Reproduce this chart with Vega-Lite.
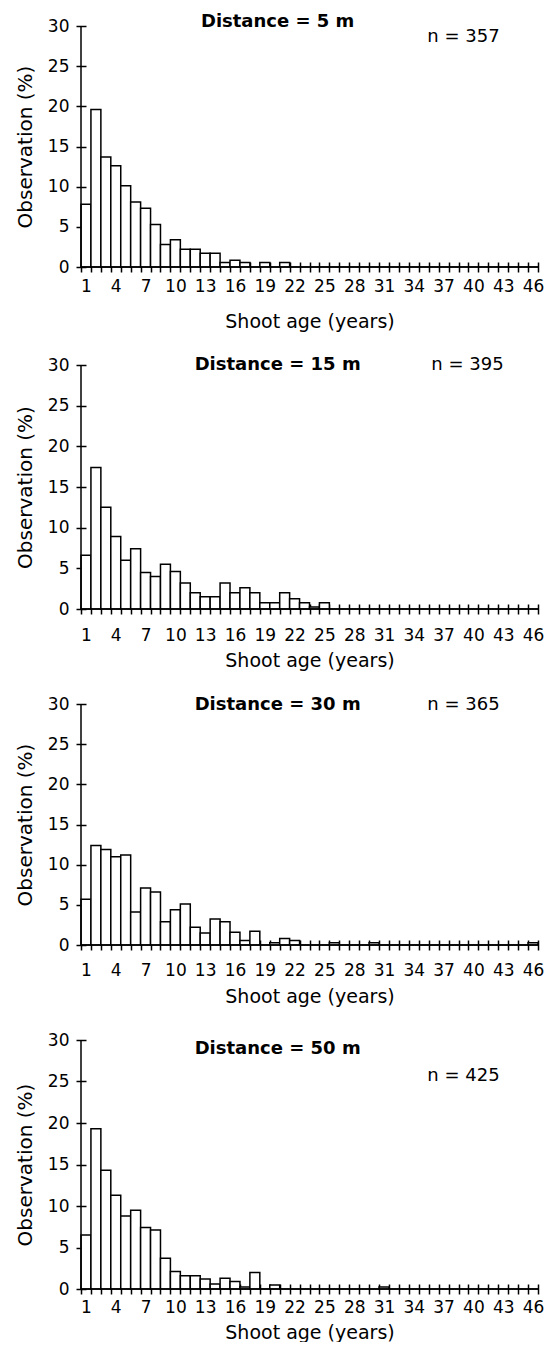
{
  "$schema": "https://vega.github.io/schema/vega-lite/v6.json",
  "background": "white",
  "padding": {"left": 15, "top": 12, "right": 0, "bottom": 0},
  "config": {
    "font": "DejaVu Sans",
    "view": {"stroke": null},
    "concat": {"spacing": 25},
    "axis": {"domain": false, "grid": false, "tickColor": "black", "tickWidth": 1.5, "tickSize": 10, "offset": -5, "labelColor": "black", "titleColor": "black", "labelFontSize": 17, "titleFontWeight": "normal", "labelFont": "DejaVu Sans", "titleFont": "DejaVu Sans"},
    "text": {"color": "black", "font": "DejaVu Sans"}
  },
  "datasets": {
    "labels": [
      {"dist": 5, "title": "Distance = 5 m", "n": "n = 357"},
      {"dist": 15, "title": "Distance = 15 m", "n": "n = 395"},
      {"dist": 30, "title": "Distance = 30 m", "n": "n = 365"},
      {"dist": 50, "title": "Distance = 50 m", "n": "n = 425"}
    ],
    "bars": [
      {"dist":5,"age":1,"pct":7.8},{"dist":5,"age":2,"pct":19.6},{"dist":5,"age":3,"pct":13.7},{"dist":5,"age":4,"pct":12.6},{"dist":5,"age":5,"pct":10.1},{"dist":5,"age":6,"pct":8.1},{"dist":5,"age":7,"pct":7.3},{"dist":5,"age":8,"pct":5.3},{"dist":5,"age":9,"pct":2.8},{"dist":5,"age":10,"pct":3.4},{"dist":5,"age":11,"pct":2.2},{"dist":5,"age":12,"pct":2.2},{"dist":5,"age":13,"pct":1.7},{"dist":5,"age":14,"pct":1.7},{"dist":5,"age":15,"pct":0.56},{"dist":5,"age":16,"pct":0.84},{"dist":5,"age":17,"pct":0.56},{"dist":5,"age":18,"pct":0},{"dist":5,"age":19,"pct":0.56},{"dist":5,"age":20,"pct":0},{"dist":5,"age":21,"pct":0.56},{"dist":5,"age":22,"pct":0},{"dist":5,"age":23,"pct":0},{"dist":5,"age":24,"pct":0},{"dist":5,"age":25,"pct":0},{"dist":5,"age":26,"pct":0},{"dist":5,"age":27,"pct":0},{"dist":5,"age":28,"pct":0},{"dist":5,"age":29,"pct":0},{"dist":5,"age":30,"pct":0},{"dist":5,"age":31,"pct":0},{"dist":5,"age":32,"pct":0},{"dist":5,"age":33,"pct":0},{"dist":5,"age":34,"pct":0},{"dist":5,"age":35,"pct":0},{"dist":5,"age":36,"pct":0},{"dist":5,"age":37,"pct":0},{"dist":5,"age":38,"pct":0},{"dist":5,"age":39,"pct":0},{"dist":5,"age":40,"pct":0},{"dist":5,"age":41,"pct":0},{"dist":5,"age":42,"pct":0},{"dist":5,"age":43,"pct":0},{"dist":5,"age":44,"pct":0},{"dist":5,"age":45,"pct":0},{"dist":5,"age":46,"pct":0},
      {"dist":15,"age":1,"pct":6.6},{"dist":15,"age":2,"pct":17.4},{"dist":15,"age":3,"pct":12.5},{"dist":15,"age":4,"pct":8.9},{"dist":15,"age":5,"pct":6.0},{"dist":15,"age":6,"pct":7.4},{"dist":15,"age":7,"pct":4.5},{"dist":15,"age":8,"pct":4.0},{"dist":15,"age":9,"pct":5.5},{"dist":15,"age":10,"pct":4.6},{"dist":15,"age":11,"pct":3.2},{"dist":15,"age":12,"pct":2.0},{"dist":15,"age":13,"pct":1.5},{"dist":15,"age":14,"pct":1.5},{"dist":15,"age":15,"pct":3.2},{"dist":15,"age":16,"pct":2.0},{"dist":15,"age":17,"pct":2.6},{"dist":15,"age":18,"pct":2.0},{"dist":15,"age":19,"pct":0.76},{"dist":15,"age":20,"pct":0.76},{"dist":15,"age":21,"pct":2.0},{"dist":15,"age":22,"pct":1.27},{"dist":15,"age":23,"pct":0.76},{"dist":15,"age":24,"pct":0.25},{"dist":15,"age":25,"pct":0.76},{"dist":15,"age":26,"pct":0},{"dist":15,"age":27,"pct":0},{"dist":15,"age":28,"pct":0},{"dist":15,"age":29,"pct":0},{"dist":15,"age":30,"pct":0},{"dist":15,"age":31,"pct":0},{"dist":15,"age":32,"pct":0},{"dist":15,"age":33,"pct":0},{"dist":15,"age":34,"pct":0},{"dist":15,"age":35,"pct":0},{"dist":15,"age":36,"pct":0},{"dist":15,"age":37,"pct":0},{"dist":15,"age":38,"pct":0},{"dist":15,"age":39,"pct":0},{"dist":15,"age":40,"pct":0},{"dist":15,"age":41,"pct":0},{"dist":15,"age":42,"pct":0},{"dist":15,"age":43,"pct":0},{"dist":15,"age":44,"pct":0},{"dist":15,"age":45,"pct":0},{"dist":15,"age":46,"pct":0},
      {"dist":30,"age":1,"pct":5.7},{"dist":30,"age":2,"pct":12.4},{"dist":30,"age":3,"pct":11.9},{"dist":30,"age":4,"pct":11.0},{"dist":30,"age":5,"pct":11.2},{"dist":30,"age":6,"pct":4.1},{"dist":30,"age":7,"pct":7.1},{"dist":30,"age":8,"pct":6.6},{"dist":30,"age":9,"pct":2.9},{"dist":30,"age":10,"pct":4.4},{"dist":30,"age":11,"pct":5.1},{"dist":30,"age":12,"pct":2.2},{"dist":30,"age":13,"pct":1.5},{"dist":30,"age":14,"pct":3.25},{"dist":30,"age":15,"pct":2.9},{"dist":30,"age":16,"pct":1.6},{"dist":30,"age":17,"pct":0.55},{"dist":30,"age":18,"pct":1.7},{"dist":30,"age":19,"pct":0},{"dist":30,"age":20,"pct":0.27},{"dist":30,"age":21,"pct":0.82},{"dist":30,"age":22,"pct":0.55},{"dist":30,"age":23,"pct":0},{"dist":30,"age":24,"pct":0},{"dist":30,"age":25,"pct":0},{"dist":30,"age":26,"pct":0.27},{"dist":30,"age":27,"pct":0},{"dist":30,"age":28,"pct":0},{"dist":30,"age":29,"pct":0},{"dist":30,"age":30,"pct":0.27},{"dist":30,"age":31,"pct":0},{"dist":30,"age":32,"pct":0},{"dist":30,"age":33,"pct":0},{"dist":30,"age":34,"pct":0},{"dist":30,"age":35,"pct":0},{"dist":30,"age":36,"pct":0},{"dist":30,"age":37,"pct":0},{"dist":30,"age":38,"pct":0},{"dist":30,"age":39,"pct":0},{"dist":30,"age":40,"pct":0},{"dist":30,"age":41,"pct":0},{"dist":30,"age":42,"pct":0},{"dist":30,"age":43,"pct":0},{"dist":30,"age":44,"pct":0},{"dist":30,"age":45,"pct":0},{"dist":30,"age":46,"pct":0.27},
      {"dist":50,"age":1,"pct":6.5},{"dist":50,"age":2,"pct":19.3},{"dist":50,"age":3,"pct":14.3},{"dist":50,"age":4,"pct":11.3},{"dist":50,"age":5,"pct":8.8},{"dist":50,"age":6,"pct":9.5},{"dist":50,"age":7,"pct":7.4},{"dist":50,"age":8,"pct":7.1},{"dist":50,"age":9,"pct":3.7},{"dist":50,"age":10,"pct":2.1},{"dist":50,"age":11,"pct":1.6},{"dist":50,"age":12,"pct":1.6},{"dist":50,"age":13,"pct":1.2},{"dist":50,"age":14,"pct":0.6},{"dist":50,"age":15,"pct":1.3},{"dist":50,"age":16,"pct":0.9},{"dist":50,"age":17,"pct":0.24},{"dist":50,"age":18,"pct":2.0},{"dist":50,"age":19,"pct":0},{"dist":50,"age":20,"pct":0.47},{"dist":50,"age":21,"pct":0},{"dist":50,"age":22,"pct":0},{"dist":50,"age":23,"pct":0},{"dist":50,"age":24,"pct":0},{"dist":50,"age":25,"pct":0},{"dist":50,"age":26,"pct":0},{"dist":50,"age":27,"pct":0},{"dist":50,"age":28,"pct":0},{"dist":50,"age":29,"pct":0},{"dist":50,"age":30,"pct":0},{"dist":50,"age":31,"pct":0.24},{"dist":50,"age":32,"pct":0},{"dist":50,"age":33,"pct":0},{"dist":50,"age":34,"pct":0},{"dist":50,"age":35,"pct":0},{"dist":50,"age":36,"pct":0},{"dist":50,"age":37,"pct":0},{"dist":50,"age":38,"pct":0},{"dist":50,"age":39,"pct":0},{"dist":50,"age":40,"pct":0},{"dist":50,"age":41,"pct":0},{"dist":50,"age":42,"pct":0},{"dist":50,"age":43,"pct":0},{"dist":50,"age":44,"pct":0},{"dist":50,"age":45,"pct":0},{"dist":50,"age":46,"pct":0}
    ]
  },
  "vconcat": [
    {
      "width": 457, "height": 241,
      "data": {"name": "labels"},
      "layer": [
        {"data": {"name": "bars"}, "transform": [{"filter": "datum.dist == 5"}],
         "mark": {"type": "bar", "fill": "white", "stroke": "black", "strokeWidth": 1.5},
         "encoding": {
           "x": {"field": "age", "type": "ordinal", "scale": {"domain": [1,2,3,4,5,6,7,8,9,10,11,12,13,14,15,16,17,18,19,20,21,22,23,24,25,26,27,28,29,30,31,32,33,34,35,36,37,38,39,40,41,42,43,44,45,46], "paddingInner": 0, "paddingOuter": 0},
                 "title": "Shoot age (years)",
                 "axis": {"titleFontSize": 19, "tickBand": "extent", "labelAngle": 0, "labelOverlap": false, "labelExpr": "(datum.value - 1) % 3 == 0 ? datum.label : ''", "labelPadding": 6, "titlePadding": 18}},
           "y": {"field": "pct", "type": "quantitative", "scale": {"domain": [0, 30], "nice": false},
                 "title": "Observation (%)",
                 "axis": {"titleFontSize": 20, "values": [0,5,10,15,20,25,30], "labelPadding": 7, "titlePadding": 12}}
         }},
        {"transform": [{"filter": "datum.dist == 5"}], "mark": {"type": "rule", "stroke": "black", "strokeWidth": 1.5},
         "encoding": {"y": {"datum": 0, "type": "quantitative"}}},
        {"transform": [{"filter": "datum.dist == 5"}], "mark": {"type": "rule", "stroke": "black", "strokeWidth": 1.5},
         "encoding": {"x": {"datum": 1, "type": "ordinal", "bandPosition": 0}, "y": {"datum": 0, "type": "quantitative"}, "y2": {"datum": 30}}},
        {"transform": [{"filter": "datum.dist == 5"}], "mark": {"type": "text", "fontWeight": "bold", "fontSize": 18, "dx": -7},
         "encoding": {"text": {"field": "title"}, "x": {"datum": 21, "type": "ordinal"}, "y": {"datum": 30.5, "type": "quantitative"}}},
        {"transform": [{"filter": "datum.dist == 5"}], "mark": {"type": "text", "fontSize": 18},
         "encoding": {"text": {"field": "n"}, "x": {"datum": 39, "type": "ordinal"}, "y": {"datum": 28.6, "type": "quantitative"}}}
      ]
    },
    {
      "width": 457, "height": 244,
      "data": {"name": "labels"},
      "layer": [
        {"data": {"name": "bars"}, "transform": [{"filter": "datum.dist == 15"}],
         "mark": {"type": "bar", "fill": "white", "stroke": "black", "strokeWidth": 1.5},
         "encoding": {
           "x": {"field": "age", "type": "ordinal", "scale": {"domain": [1,2,3,4,5,6,7,8,9,10,11,12,13,14,15,16,17,18,19,20,21,22,23,24,25,26,27,28,29,30,31,32,33,34,35,36,37,38,39,40,41,42,43,44,45,46], "paddingInner": 0, "paddingOuter": 0},
                 "title": "Shoot age (years)",
                 "axis": {"titleFontSize": 19, "tickBand": "extent", "labelAngle": 0, "labelOverlap": false, "labelExpr": "(datum.value - 1) % 3 == 0 ? datum.label : ''", "labelPadding": 13, "titlePadding": 8}},
           "y": {"field": "pct", "type": "quantitative", "scale": {"domain": [0, 30], "nice": false},
                 "title": "Observation (%)",
                 "axis": {"titleFontSize": 20, "values": [0,5,10,15,20,25,30], "labelPadding": 7, "titlePadding": 12}}
         }},
        {"transform": [{"filter": "datum.dist == 15"}], "mark": {"type": "rule", "stroke": "black", "strokeWidth": 1.5},
         "encoding": {"y": {"datum": 0, "type": "quantitative"}}},
        {"transform": [{"filter": "datum.dist == 15"}], "mark": {"type": "rule", "stroke": "black", "strokeWidth": 1.5},
         "encoding": {"x": {"datum": 1, "type": "ordinal", "bandPosition": 0}, "y": {"datum": 0, "type": "quantitative"}, "y2": {"datum": 30}}},
        {"transform": [{"filter": "datum.dist == 15"}], "mark": {"type": "text", "fontWeight": "bold", "fontSize": 18, "dx": -7},
         "encoding": {"text": {"field": "title"}, "x": {"datum": 21, "type": "ordinal"}, "y": {"datum": 30, "type": "quantitative"}}},
        {"transform": [{"filter": "datum.dist == 15"}], "mark": {"type": "text", "fontSize": 18, "dx": 4},
         "encoding": {"text": {"field": "n"}, "x": {"datum": 39, "type": "ordinal"}, "y": {"datum": 30, "type": "quantitative"}}}
      ]
    },
    {
      "width": 457, "height": 241,
      "data": {"name": "labels"},
      "layer": [
        {"data": {"name": "bars"}, "transform": [{"filter": "datum.dist == 30"}],
         "mark": {"type": "bar", "fill": "white", "stroke": "black", "strokeWidth": 1.5},
         "encoding": {
           "x": {"field": "age", "type": "ordinal", "scale": {"domain": [1,2,3,4,5,6,7,8,9,10,11,12,13,14,15,16,17,18,19,20,21,22,23,24,25,26,27,28,29,30,31,32,33,34,35,36,37,38,39,40,41,42,43,44,45,46], "paddingInner": 0, "paddingOuter": 0},
                 "title": "Shoot age (years)",
                 "axis": {"titleFontSize": 19, "tickBand": "extent", "labelAngle": 0, "labelOverlap": false, "labelExpr": "(datum.value - 1) % 3 == 0 ? datum.label : ''", "labelPadding": 12, "titlePadding": 9}},
           "y": {"field": "pct", "type": "quantitative", "scale": {"domain": [0, 30], "nice": false},
                 "title": "Observation (%)",
                 "axis": {"titleFontSize": 20, "values": [0,5,10,15,20,25,30], "labelPadding": 7, "titlePadding": 12}}
         }},
        {"transform": [{"filter": "datum.dist == 30"}], "mark": {"type": "rule", "stroke": "black", "strokeWidth": 1.5},
         "encoding": {"y": {"datum": 0, "type": "quantitative"}}},
        {"transform": [{"filter": "datum.dist == 30"}], "mark": {"type": "rule", "stroke": "black", "strokeWidth": 1.5},
         "encoding": {"x": {"datum": 1, "type": "ordinal", "bandPosition": 0}, "y": {"datum": 0, "type": "quantitative"}, "y2": {"datum": 30}}},
        {"transform": [{"filter": "datum.dist == 30"}], "mark": {"type": "text", "fontWeight": "bold", "fontSize": 18, "dx": -7},
         "encoding": {"text": {"field": "title"}, "x": {"datum": 21, "type": "ordinal"}, "y": {"datum": 29.9, "type": "quantitative"}}},
        {"transform": [{"filter": "datum.dist == 30"}], "mark": {"type": "text", "fontSize": 18},
         "encoding": {"text": {"field": "n"}, "x": {"datum": 39, "type": "ordinal"}, "y": {"datum": 29.9, "type": "quantitative"}}}
      ]
    },
    {
      "width": 457, "height": 249,
      "data": {"name": "labels"},
      "layer": [
        {"data": {"name": "bars"}, "transform": [{"filter": "datum.dist == 50"}],
         "mark": {"type": "bar", "fill": "white", "stroke": "black", "strokeWidth": 1.5},
         "encoding": {
           "x": {"field": "age", "type": "ordinal", "scale": {"domain": [1,2,3,4,5,6,7,8,9,10,11,12,13,14,15,16,17,18,19,20,21,22,23,24,25,26,27,28,29,30,31,32,33,34,35,36,37,38,39,40,41,42,43,44,45,46], "paddingInner": 0, "paddingOuter": 0},
                 "title": "Shoot age (years)",
                 "axis": {"titleFontSize": 19, "tickBand": "extent", "labelAngle": 0, "labelOverlap": false, "labelExpr": "(datum.value - 1) % 3 == 0 ? datum.label : ''", "labelPadding": 5, "titlePadding": 8}},
           "y": {"field": "pct", "type": "quantitative", "scale": {"domain": [0, 30], "nice": false},
                 "title": "Observation (%)",
                 "axis": {"titleFontSize": 20, "values": [0,5,10,15,20,25,30], "labelPadding": 7, "titlePadding": 12}}
         }},
        {"transform": [{"filter": "datum.dist == 50"}], "mark": {"type": "rule", "stroke": "black", "strokeWidth": 1.5},
         "encoding": {"y": {"datum": 0, "type": "quantitative"}}},
        {"transform": [{"filter": "datum.dist == 50"}], "mark": {"type": "rule", "stroke": "black", "strokeWidth": 1.5},
         "encoding": {"x": {"datum": 1, "type": "ordinal", "bandPosition": 0}, "y": {"datum": 0, "type": "quantitative"}, "y2": {"datum": 30}}},
        {"transform": [{"filter": "datum.dist == 50"}], "mark": {"type": "text", "fontWeight": "bold", "fontSize": 18, "dx": -7},
         "encoding": {"text": {"field": "title"}, "x": {"datum": 21, "type": "ordinal"}, "y": {"datum": 28.9, "type": "quantitative"}}},
        {"transform": [{"filter": "datum.dist == 50"}], "mark": {"type": "text", "fontSize": 18},
         "encoding": {"text": {"field": "n"}, "x": {"datum": 39, "type": "ordinal"}, "y": {"datum": 25.7, "type": "quantitative"}}}
      ]
    }
  ]
}
